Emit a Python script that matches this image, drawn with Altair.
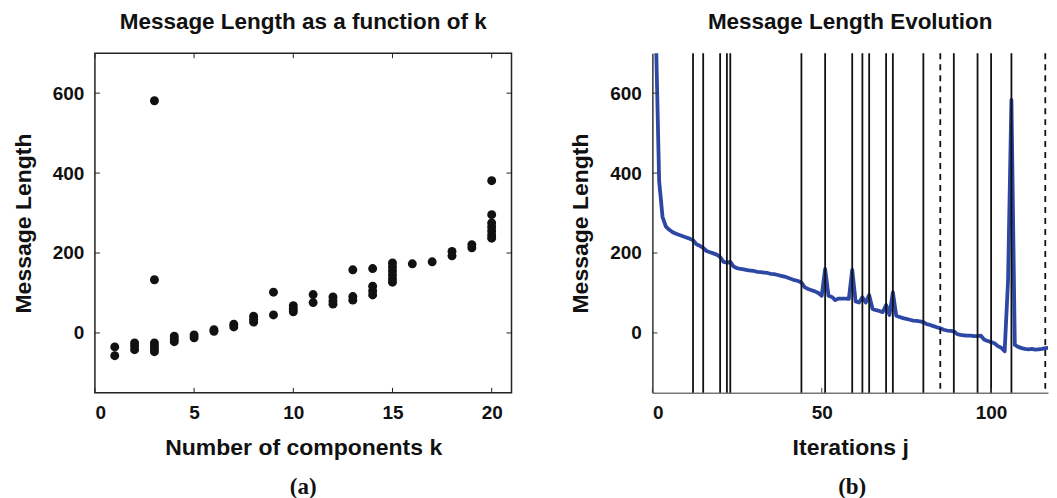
import altair as alt
import pandas as pd

# ---------------- data: panel (a) ----------------
k_values = [1, 1,
            2, 2, 2,
            3, 3, 3, 3, 3, 3,
            4, 4, 4,
            5, 5,
            6, 6,
            7, 7,
            8, 8, 8,
            9, 9,
            10, 10, 10,
            11, 11,
            12, 12, 12,
            13, 13, 13,
            14, 14, 14, 14,
            15, 15, 15, 15, 15, 15,
            16,
            17,
            18, 18,
            19, 19,
            20, 20, 20, 20, 20, 20, 20]
msg_len_k = [-35, -57,
             -25, -33, -42,
             581, 133, -25, -33, -40, -47,
             -8, -15, -22,
             -5, -12,
             8, 4,
             22, 15,
             42, 34, 27,
             102, 45,
             68, 60, 53,
             96, 76,
             90, 80, 72,
             158, 91, 82,
             161, 117, 105, 95,
             175, 165, 155, 145, 135, 127,
             173,
             178,
             204, 193,
             221, 213,
             381, 296, 275, 265, 255, 245, 237]

# ---------------- data: panel (b) ----------------
msg_len_evo = [1100, 760, 380, 290, 266, 258, 252, 248, 245, 242,
               239, 236, 232, 222, 218, 213, 205, 202, 199, 196,
               190, 178, 176, 178, 166, 162, 160, 159, 157, 156,
               155, 153, 152, 151, 150, 148, 147, 145, 143, 141,
               138, 135, 132, 130, 126, 114, 110, 107, 104, 100,
               93, 160, 93, 90, 82, 86, 86, 86, 85, 158,
               79, 76, 89, 76, 95, 60, 57, 55, 52, 70,
               45, 102, 43, 40, 37, 35, 33, 31, 30, 29,
               27, 22, 20, 17, 14, 12, 8, 6, 5, 4,
               -3, -5, -6, -7, -7, -8, -8, -7, -17, -20,
               -23, -26, -33, -37, -46, 130, 583, -30, -35, -38,
               -40, -41, -40, -42, -41, -40, -38, -37]
iterations = list(range(len(msg_len_evo)))
solid_events = [12, 15, 20, 22, 23, 44, 51, 59, 62, 64, 69, 71, 80, 89, 96, 100, 106]
dashed_events = [85, 116]

x_ticks_a = [0, 5, 10, 15, 20]
x_ticks_b = [0, 50, 100]
y_ticks = [0, 200, 400, 600]
panel_labels = ["(a)", "(b)"]

W_A, W_B, H = 417, 396, 340
FONT = "Liberation Sans"

df_a = pd.DataFrame({"k": k_values, "ml": msg_len_k})
df_b = pd.DataFrame({"it": iterations, "ml": msg_len_evo})
df_solid = pd.DataFrame({"v": solid_events})
df_dash = pd.DataFrame({"v": dashed_events})
df_xta = pd.DataFrame({"t": x_ticks_a})
df_xtb = pd.DataFrame({"t": x_ticks_b})
df_yt = pd.DataFrame({"t": y_ticks})

ysc = alt.Scale(domain=[-150, 700], nice=False, zero=False)
xsc_a = alt.Scale(domain=[0, 21], nice=False, zero=False)
xsc_b = alt.Scale(domain=[0, 116.8], nice=False, zero=False)

ax_xa = alt.Axis(values=x_ticks_a, title="Number of components k", ticks=False,
                 grid=False, domain=False, labelPadding=11, titlePadding=14)
ax_ya = alt.Axis(values=y_ticks, title="Message Length", ticks=False, grid=False,
                 domain=False, labelPadding=11, titlePadding=17)
ax_xb = alt.Axis(values=x_ticks_b, title="Iterations j", ticks=False, grid=False,
                 domain=True, domainColor="#777777", domainWidth=1.5,
                 labelPadding=11, titlePadding=14)
ax_yb = alt.Axis(values=y_ticks, title="Message Length", ticks=False, grid=False,
                 domain=True, domainColor="#333333", domainWidth=1.5,
                 labelPadding=11, titlePadding=17)

# ---------------- panel (a) ----------------
pts = alt.Chart(df_a).mark_circle(size=80, color="#111111", opacity=1).encode(
    x=alt.X("k:Q", scale=xsc_a, axis=ax_xa),
    y=alt.Y("ml:Q", scale=ysc, axis=ax_ya),
)
tk_bot_a = alt.Chart(df_xta).mark_rule(color="#222", strokeWidth=1).encode(
    x=alt.X("t:Q", scale=xsc_a, axis=ax_xa), y=alt.value(H), y2=alt.value(H - 5))
tk_top_a = alt.Chart(df_xta).mark_rule(color="#222", strokeWidth=1).encode(
    x=alt.X("t:Q", scale=xsc_a, axis=ax_xa), y=alt.value(0), y2=alt.value(5))
tk_left_a = alt.Chart(df_yt).mark_rule(color="#222", strokeWidth=1).encode(
    y=alt.Y("t:Q", scale=ysc, axis=ax_ya), x=alt.value(0), x2=alt.value(5))
tk_right_a = alt.Chart(df_yt).mark_rule(color="#222", strokeWidth=1).encode(
    y=alt.Y("t:Q", scale=ysc, axis=ax_ya), x=alt.value(W_A), x2=alt.value(W_A - 5))
lab_a = alt.Chart(pd.DataFrame({"lab": [panel_labels[0]]})).mark_text(
    font="Liberation Serif", fontWeight="bold", fontSize=23, baseline="middle", align="center",
    color="#111").encode(text="lab:N", x=alt.value(W_A / 2), y=alt.value(H + 94))

left = alt.layer(pts, tk_bot_a, tk_top_a, tk_left_a, tk_right_a, lab_a).properties(
    width=W_A, height=H,
    title=alt.TitleParams("Message Length as a function of k", anchor="middle", offset=19),
    view=alt.ViewBackground(stroke="#222222", strokeWidth=1.5),
)

# ---------------- panel (b) ----------------
line = alt.Chart(df_b).mark_line(color="#2d47a4", strokeWidth=3.8, clip=True,
                                 strokeJoin="round").encode(
    x=alt.X("it:Q", scale=xsc_b, axis=ax_xb),
    y=alt.Y("ml:Q", scale=ysc, axis=ax_yb),
)
vsolid = alt.Chart(df_solid).mark_rule(color="#111111", strokeWidth=1.8).encode(
    x=alt.X("v:Q", scale=xsc_b, axis=ax_xb))
vdash = alt.Chart(df_dash).mark_rule(color="#111111", strokeWidth=1.8, strokeDash=[6, 5]).encode(
    x=alt.X("v:Q", scale=xsc_b, axis=ax_xb))
tk_bot_b = alt.Chart(df_xtb).mark_rule(color="#444", strokeWidth=1).encode(
    x=alt.X("t:Q", scale=xsc_b, axis=ax_xb), y=alt.value(H), y2=alt.value(H - 5))
tk_left_b = alt.Chart(df_yt).mark_rule(color="#333", strokeWidth=1).encode(
    y=alt.Y("t:Q", scale=ysc, axis=ax_yb), x=alt.value(0), x2=alt.value(5))
lab_b = alt.Chart(pd.DataFrame({"lab": [panel_labels[1]]})).mark_text(
    font="Liberation Serif", fontWeight="bold", fontSize=23, baseline="middle", align="center",
    color="#111").encode(text="lab:N", x=alt.value(200), y=alt.value(H + 94))

right = alt.layer(line, vsolid, vdash, tk_bot_b, tk_left_b, lab_b).properties(
    width=W_B, height=H,
    title=alt.TitleParams("Message Length Evolution", anchor="middle", offset=19),
)

chart = alt.hconcat(left, right, spacing=141, bounds="flush").properties(
    padding={"left": 3, "top": 2, "right": 0, "bottom": 0},
).configure_view(stroke="transparent").configure_axis(
    labelFont=FONT, labelFontSize=19, labelFontWeight="bold", labelColor="#111111",
    titleFont=FONT, titleFontSize=23, titleFontWeight="bold", titleColor="#111111",
).configure_title(
    font=FONT, fontSize=22.5, fontWeight="bold", color="#111111",
)

chart.save("out.html", embed_options={"renderer": "svg", "actions": False})
